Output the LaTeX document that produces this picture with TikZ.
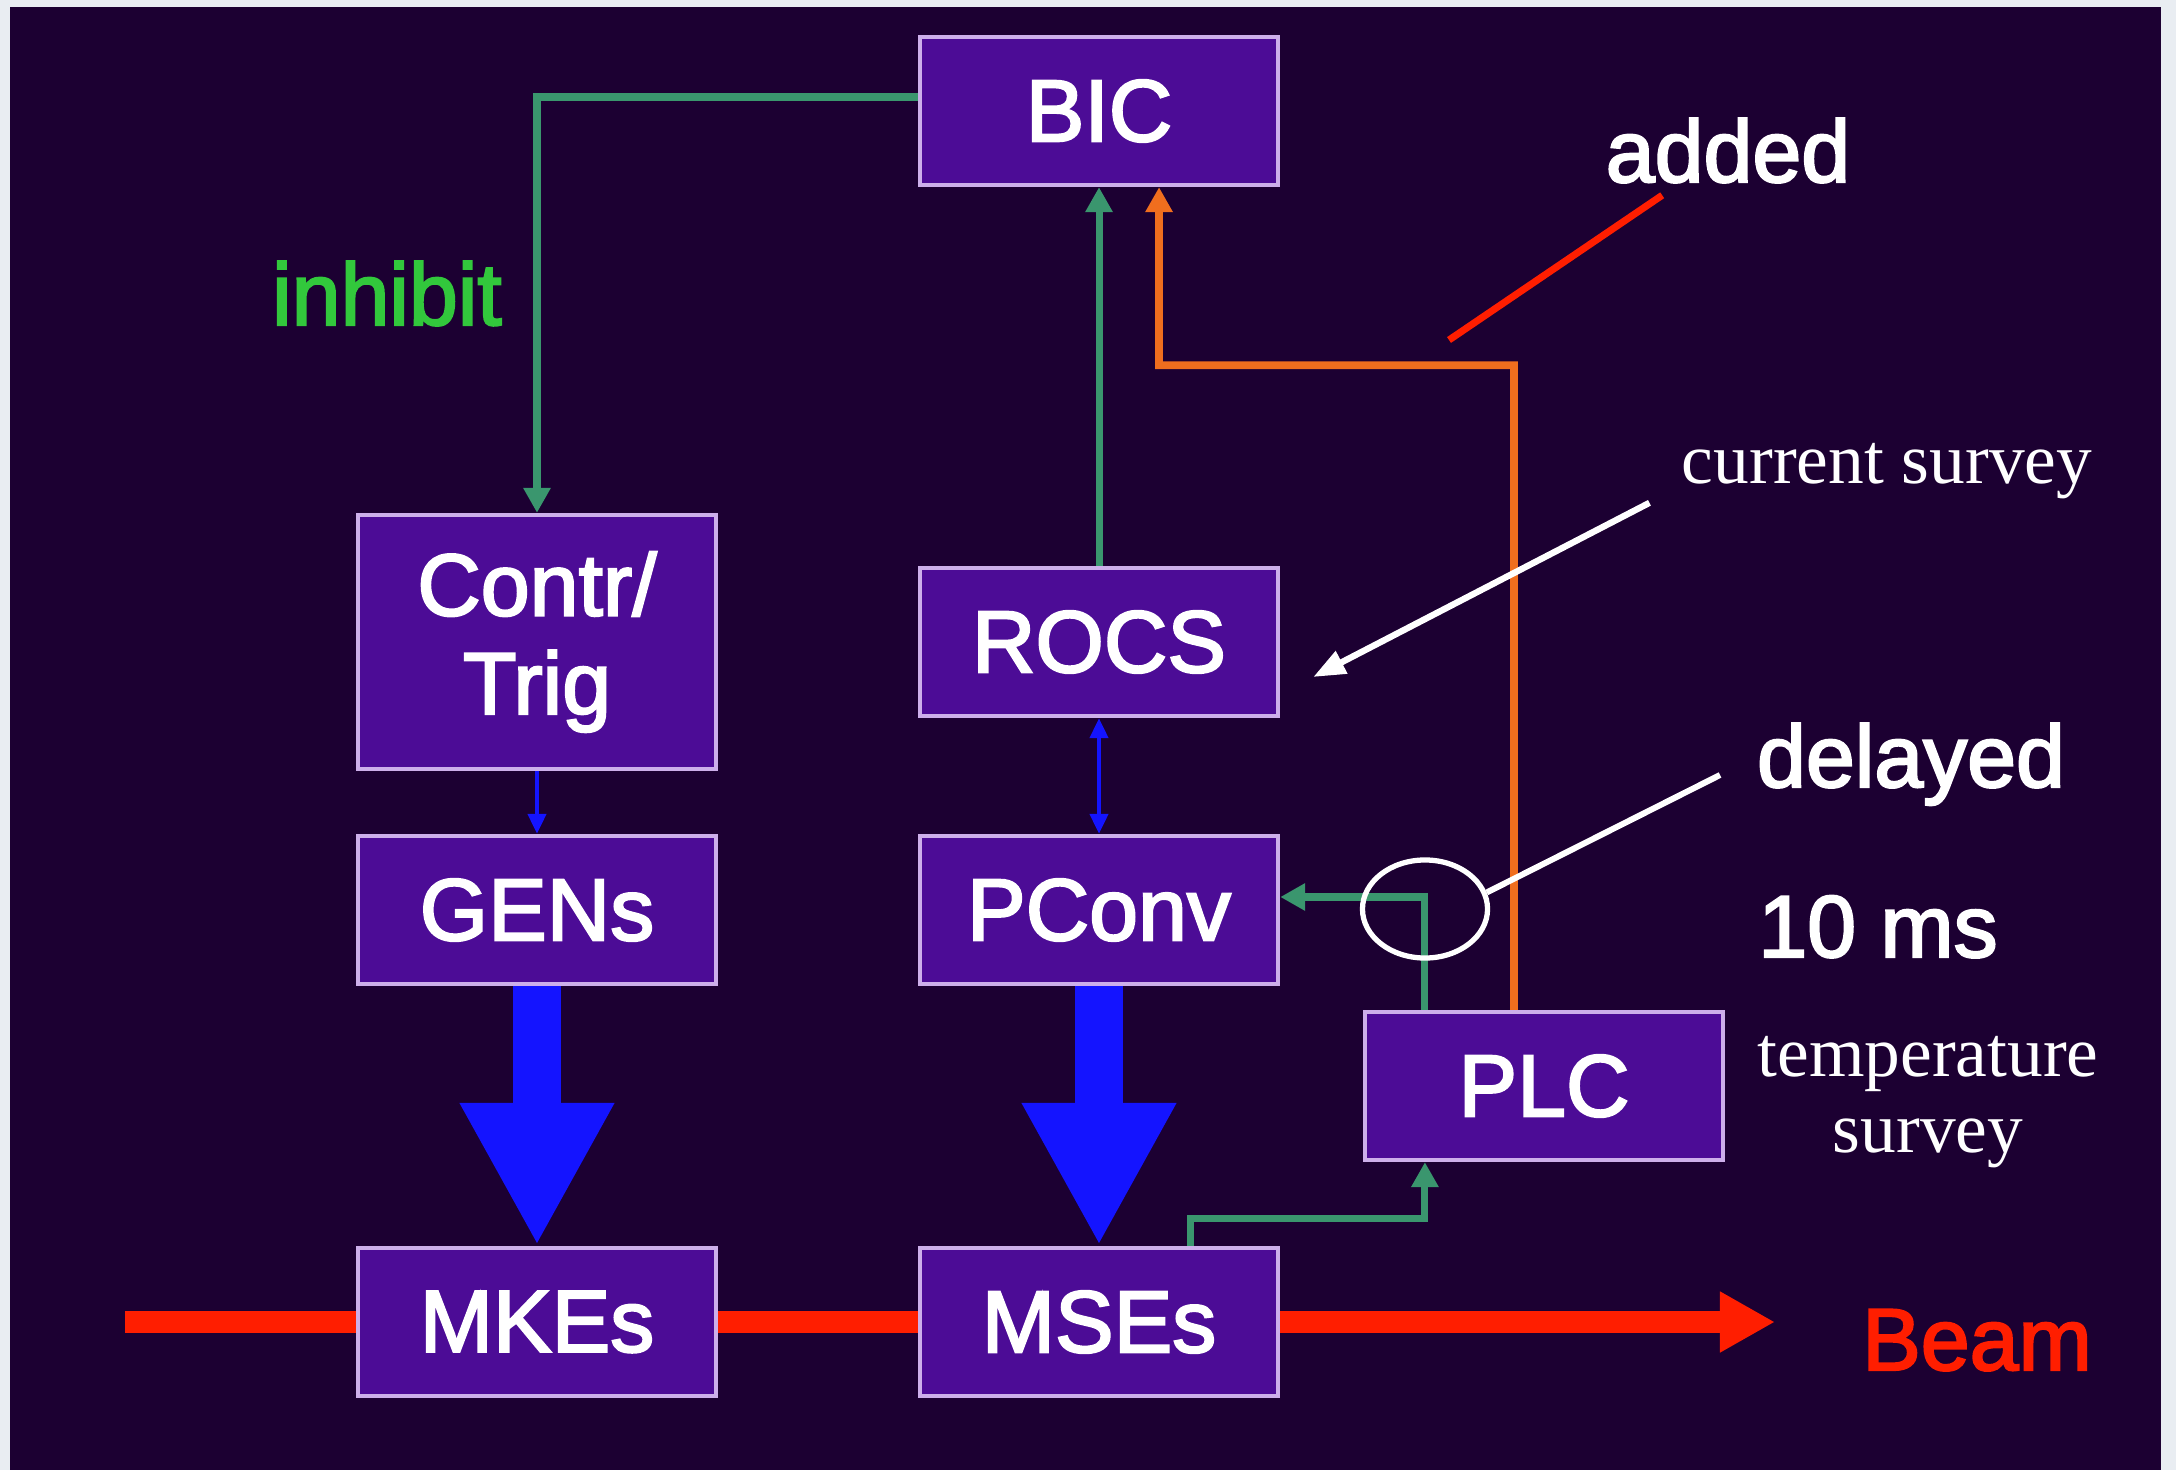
\documentclass[tikz,border=0pt]{standalone}
\usepackage{fontspec}
\setmainfont{Liberation Serif}
\setsansfont[FakeBold=2.5]{Liberation Sans}
\usetikzlibrary{positioning,calc,arrows.meta,shapes.geometric}

\definecolor{slideframe}{RGB}{233,237,242}
\definecolor{slidebg}{RGB}{28,0,50}
\definecolor{boxfill}{RGB}{76,12,150}
\definecolor{boxline}{RGB}{205,175,235}
\definecolor{sigline}{RGB}{58,150,110}
\definecolor{inhibitgreen}{RGB}{50,200,60}
\definecolor{plcorange}{RGB}{240,110,30}
\definecolor{beamred}{RGB}{255,30,0}
\definecolor{powerblue}{RGB}{20,20,255}

\tikzset{
  thinpower/.style={powerblue,line width=1.2pt},
  fatpower/.style={powerblue,line width=0.48cm,
    -{Triangle[length=1.43cm,width=1.44cm]}},
}

\begin{document}
\begin{tikzpicture}[x=0.01cm,y=-0.01cm]
  \fill[slideframe] (0,0) rectangle (2176,1470);
  \fill[slidebg] (10,7) rectangle (2161,1470);
  \useasboundingbox (0,0) rectangle (2176,1470);
  \coordinate(bic) at (1099,111);
  \coordinate(contr-col) at (537,0);
  \begin{scope}[
    every node/.style={
      draw=boxline,
      fill=boxfill,
      line width=1.2pt,
      text=white,
      font=\sffamily\fontsize{25}{28}\selectfont,
      align=center,
      anchor=center,
      minimum width=3.58cm,
      minimum height=1.48cm,
    },
    ]
    \node (BIC) at (bic) {BIC};
    \path ($(bic)+(0,531)$) node(ROCS){ROCS}
    ++(0,268) node(PConv){PConv}
    ++(0,412) node(MSEs){MSEs};
    \node[minimum height=2.54cm] (contr) at (contr-col |- ROCS) {Contr/\\Trig};
    \node (GENs) at (contr-col |- PConv) {GENs};
    \node (MKEs) at (contr-col |- MSEs) {MKEs};
    \node (PLC) at ($(PConv)+(445,176)$) {PLC};
  \end{scope}
  \begin{scope}[
    every path/.style={draw,>={Triangle[length=0.25cm,width=0.26cm]}},
    ]
    % signal lines
    \path[sigline,line width=2pt,->]
    ([yshift=0.14cm]BIC.west) -| (contr.north);
    \path[sigline,line width=2pt,->] (ROCS) -- (BIC);
    \path[sigline,line width=2pt,->]
    ([xshift=0.91cm]MSEs.north) -- ++(0,-27) -| ([xshift=-1.19cm]PLC.south);
    \path[sigline,line width=2pt,->]
    ([xshift=-1.19cm]PLC.north) |- ([yshift=0.13cm]PConv.east);
    \path[plcorange,line width=2.2pt,->]
    ([xshift=-0.3cm]PLC.north) |- ($(BIC.south)+(60,178)$)
    -- ([xshift=0.6cm]BIC.south);
  \end{scope}
  % power
  \draw[thinpower,-{Triangle[length=0.2cm,width=0.18cm]}] (contr) -- (GENs);
  \draw[thinpower,{Triangle[length=0.2cm,width=0.18cm]}-{Triangle[length=0.2cm,width=0.18cm]}]
  (ROCS) -- (PConv);
  \draw[fatpower] (GENs) -- (MKEs);
  \draw[fatpower] (PConv) -- (MSEs);
  % beam line
  \coordinate(beam-in) at (125,1322);
  \coordinate(beam-out) at (1775,1322);
  \draw[beamred,line width=0.22cm]
  (beam-in) -- (MKEs.west) (MKEs.east) -- (MSEs.west);
  \draw[beamred,line width=0.22cm,-{Triangle[length=0.55cm,width=0.57cm]}]
  (MSEs.east) -- (beam-out);
  % labels
  \begin{scope}[
    every node/.style={font=\sffamily\fontsize{25}{28}\selectfont,text=white,anchor=base},
    ]
    \node[text=inhibitgreen] (inhibit) at (387,325) {inhibit};
    \node (added) at (1728,182) {added};
    \node (delayed) at (1911,787) {delayed};
    \node (delay-time) at (1878,957) {10 ms};
    \node[text=beamred] (beam) at (1977,1370) {Beam};
  \end{scope}
  \begin{scope}[
    every node/.style={font=\rmfamily\fontsize{20.3}{21.6}\selectfont,text=white,align=center},
    ]
    \node[anchor=base] (current) at (1887,483) {current survey};
    \node (temperature) at (1928,1102) {temperature\\survey};
  \end{scope}
  % notes
  \coordinate(added-tip) at (1449,340);
  \coordinate(delay-tip) at (1720,775);
  \draw[beamred,line width=2pt] (added) -- (added-tip);
  \draw[white,line width=1.8pt,-{Triangle[length=0.32cm,width=0.24cm]}]
  ($(current.south west)+(-20,-8)$) -- ($(ROCS.east)+(33,35)$);
  \node[draw=white,line width=1.5pt,ellipse,inner sep=0pt,
  minimum width=1.25cm,minimum height=0.98cm] (delay-ring) at (1425,909) {};
  \draw[white,line width=1.7pt] (delay-ring.15) -- (delay-tip);
\end{tikzpicture}
\end{document}
